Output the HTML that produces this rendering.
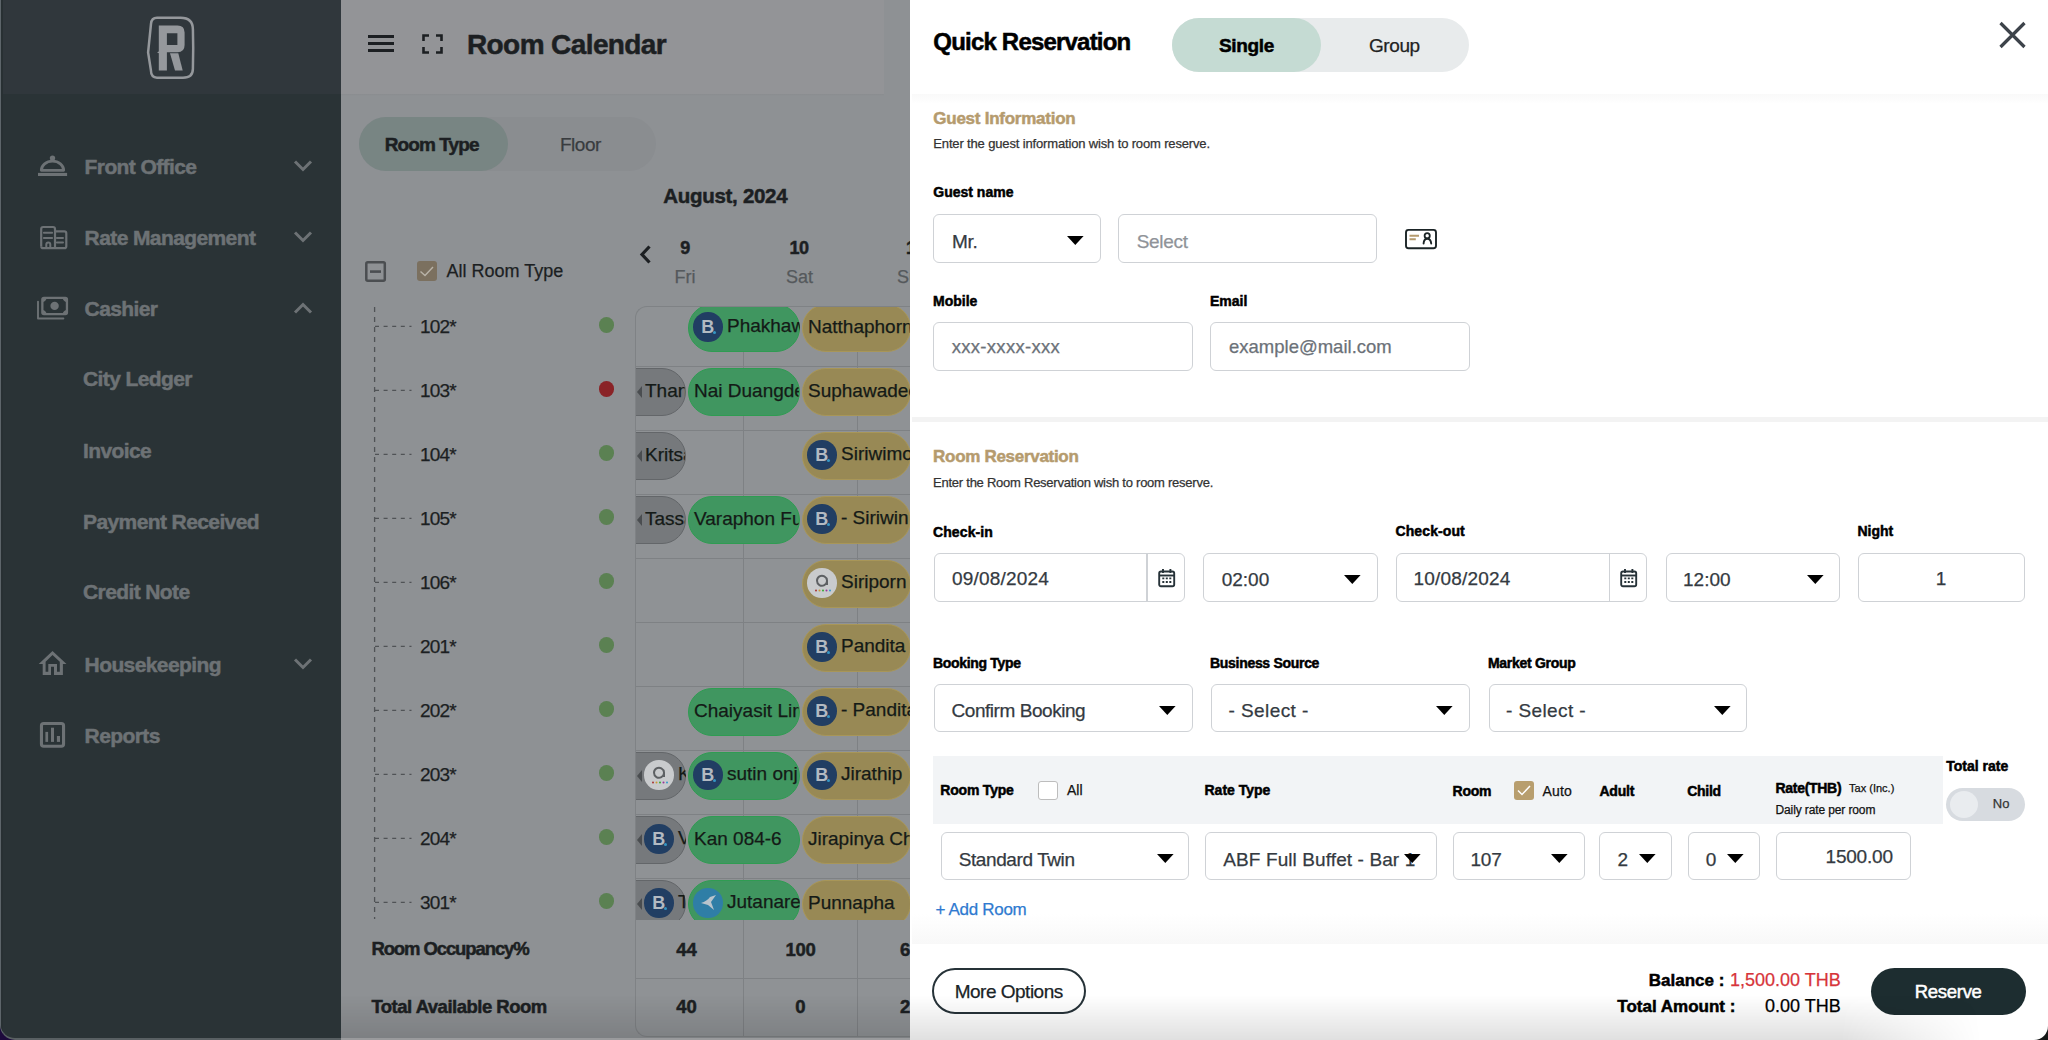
<!DOCTYPE html>
<html><head><meta charset="utf-8"><style>
html,body{margin:0;padding:0;}
body{width:2048px;height:1040px;position:relative;overflow:hidden;background:#1d0a3c;font-family:"Liberation Sans",sans-serif;}
.t{position:absolute;white-space:nowrap;}
.r{position:absolute;box-sizing:border-box;}
</style></head><body>
<div class="r" style="left:0;top:0;width:341px;height:1040px;background:#2a3336;border-left:1.6px solid #5d656a;border-bottom:2px solid #596063;border-bottom-left-radius:15px;overflow:hidden;"><div class="r" style="left:0;top:0;width:341px;height:94px;background:#30373c;"></div><div class="r" style="left:0;top:0;width:2.4px;height:1040px;background:#283033;"></div></div>
<svg class="r" style="left:140px;top:10px;" width="62" height="76" viewBox="0 0 62 76">
<path d="M17 7.7 H40.6 Q52.9 7.7 52.9 19.5 L53.2 38 L52.9 58.7 Q52.9 67.7 43 67.7 H17 Q11 67.7 10.8 59.5 L8.1 42.4 L11 13.8 Q11.5 7.7 17 7.7 Z" fill="none" stroke="#95989c" stroke-width="2.5"/>
<path d="M18.8 15.4 H37.5 Q44.6 15.4 44.6 22.5 V35 Q44.6 42.2 37.5 42.2 H26.9 V60.4 H18.8 V43.2 L17 42.2 L18.8 41.5 Z M26.9 23.2 V35 H37.4 V23.2 Z" fill="#95989c" fill-rule="evenodd"/>
<path d="M30 43.2 H38.3 L42.7 60.4 H35 Z" fill="#95989c"/>
</svg>
<svg class="r" style="left:36px;top:152px;" width="34" height="26" viewBox="0 0 34 26"><path d="M5.3 18.3 A11.2 9.2 0 0 1 27.7 18.3 Z" fill="none" stroke="#6d7275" stroke-width="2.8" stroke-linejoin="round"/>
<circle cx="16.5" cy="6.1" r="2.7" fill="#6d7275"/><rect x="2" y="20.9" width="29.1" height="3.1" fill="#6d7275"/></svg>
<div class="t" style="left:84.6px;top:156.00px;font-size:21px;line-height:21px;font-weight:700;color:#6d7275;letter-spacing:-0.6px;-webkit-text-stroke:0.5px #6d7275;">Front Office</div>
<svg class="r" style="left:292px;top:159px;" width="22" height="14" viewBox="0 0 22 14"><path d="M3 2.5 L11 10.5 L19 2.5" fill="none" stroke="#6d7275" stroke-width="3"/></svg>
<svg class="r" style="left:38px;top:224px;" width="32" height="28" viewBox="0 0 32 28"><path d="M3.2 22.2 V5 Q3.2 3 5.2 3 H15 Q17 3 17 5 V23" fill="none" stroke="#6d7275" stroke-width="2.2"/>
<path d="M17 7.4 H26.3 Q28.3 7.4 28.3 9.4 V22.2 Q28.3 24.2 26.3 24.2 H5.2 Q3.2 24.2 3.2 22.2" fill="none" stroke="#6d7275" stroke-width="2.2"/>
<path d="M5.9 8.8 H14.1 M5.9 14 H14.1 M18.9 14 H25 M18.9 18.4 H25" stroke="#6d7275" stroke-width="2" stroke-linecap="round"/>
<path d="M8.3 24 V20.5 Q8.3 18.5 10.3 18.5 Q12.3 18.5 12.3 20.5 V24" fill="none" stroke="#6d7275" stroke-width="2"/></svg>
<div class="t" style="left:84.6px;top:227.20px;font-size:21px;line-height:21px;font-weight:700;color:#6d7275;letter-spacing:-0.6px;-webkit-text-stroke:0.5px #6d7275;">Rate Management</div>
<svg class="r" style="left:292px;top:230px;" width="22" height="14" viewBox="0 0 22 14"><path d="M3 2.5 L11 10.5 L19 2.5" fill="none" stroke="#6d7275" stroke-width="3"/></svg>
<svg class="r" style="left:35px;top:294px;" width="36" height="28" viewBox="0 0 36 28"><rect x="7.35" y="3.85" width="24.6" height="16.3" rx="1.6" fill="none" stroke="#6d7275" stroke-width="2.3"/>
<path d="M7.3 3.9 h4.2 a4.2 4.2 0 0 1 -4.2 4.2 z M32 3.9 h-4.2 a4.2 4.2 0 0 0 4.2 4.2 z M7.3 20.1 h4.2 a4.2 4.2 0 0 0 -4.2 -4.2 z M32 20.1 h-4.2 a4.2 4.2 0 0 1 4.2 -4.2 z" fill="#6d7275"/>
<circle cx="19.6" cy="11.9" r="4.2" fill="#6d7275"/>
<path d="M3 7.6 V24.5 H28.4" fill="none" stroke="#6d7275" stroke-width="1.9" stroke-linecap="round" stroke-linejoin="round"/></svg>
<div class="t" style="left:84.6px;top:297.80px;font-size:21px;line-height:21px;font-weight:700;color:#6d7275;letter-spacing:-0.6px;-webkit-text-stroke:0.5px #6d7275;">Cashier</div>
<svg class="r" style="left:292px;top:301px;" width="22" height="14" viewBox="0 0 22 14"><path d="M3 11.5 L11 3.5 L19 11.5" fill="none" stroke="#6d7275" stroke-width="3"/></svg>
<div class="t" style="left:83px;top:368.00px;font-size:21px;line-height:21px;font-weight:700;color:#6d7275;letter-spacing:-0.6px;-webkit-text-stroke:0.5px #6d7275;">City Ledger</div>
<div class="t" style="left:83px;top:439.50px;font-size:21px;line-height:21px;font-weight:700;color:#6d7275;letter-spacing:-0.6px;-webkit-text-stroke:0.5px #6d7275;">Invoice</div>
<div class="t" style="left:83px;top:510.50px;font-size:21px;line-height:21px;font-weight:700;color:#6d7275;letter-spacing:-0.6px;-webkit-text-stroke:0.5px #6d7275;">Payment Received</div>
<div class="t" style="left:83px;top:581.00px;font-size:21px;line-height:21px;font-weight:700;color:#6d7275;letter-spacing:-0.6px;-webkit-text-stroke:0.5px #6d7275;">Credit Note</div>
<svg class="r" style="left:36px;top:648px;" width="34" height="30" viewBox="0 0 34 30"><path d="M16.5 2.9 L30.5 16 H26.9 V26.9 H18 V18.8 H15 V26.9 H6.7 V16 H2.7 Z M16.5 7.1 L23.8 13.8 V23.7 H21 V16 H12.3 V23.7 H9.6 V13.8 Z" fill="#6d7275" fill-rule="evenodd"/></svg>
<div class="t" style="left:84.6px;top:653.50px;font-size:21px;line-height:21px;font-weight:700;color:#6d7275;letter-spacing:-0.6px;-webkit-text-stroke:0.5px #6d7275;">Housekeeping</div>
<svg class="r" style="left:292px;top:657px;" width="22" height="14" viewBox="0 0 22 14"><path d="M3 2.5 L11 10.5 L19 2.5" fill="none" stroke="#6d7275" stroke-width="3"/></svg>
<svg class="r" style="left:38px;top:720px;" width="30" height="30" viewBox="0 0 30 30"><rect x="3.45" y="3.55" width="22.1" height="22.7" rx="2.2" fill="none" stroke="#6d7275" stroke-width="3.1"/>
<rect x="7.4" y="11.9" width="2.7" height="10" fill="#6d7275"/><rect x="13" y="7.7" width="3" height="14.2" fill="#6d7275"/><rect x="18.9" y="16" width="3.1" height="5.9" fill="#6d7275"/></svg>
<div class="t" style="left:84.6px;top:724.50px;font-size:21px;line-height:21px;font-weight:700;color:#6d7275;letter-spacing:-0.6px;-webkit-text-stroke:0.5px #6d7275;">Reports</div>
<div class="r" style="left:341px;top:0px;width:569px;height:1040px;background:#8e9194;"></div>
<div class="r" style="left:341px;top:0px;width:543px;height:94px;background:#939497;"></div>
<div class="r" style="left:341px;top:94px;width:543px;height:2px;background:linear-gradient(#8a8c8f,#8e9194);"></div>
<div class="r" style="left:368px;top:34.5px;width:26px;height:3px;background:#1c1f22;"></div>
<div class="r" style="left:368px;top:41.5px;width:26px;height:3px;background:#1c1f22;"></div>
<div class="r" style="left:368px;top:48.5px;width:26px;height:3px;background:#1c1f22;"></div>
<svg class="r" style="left:421px;top:33px;" width="23" height="22" viewBox="0 0 23 22"><path d="M2.5 8 V2.5 H8 M15 2.5 H20.5 V8 M20.5 14 V19.5 H15 M8 19.5 H2.5 V14" fill="none" stroke="#1c1f22" stroke-width="2.6"/></svg>
<div class="t" style="left:467px;top:30.50px;font-size:28px;line-height:28px;font-weight:700;color:#1c1f22;letter-spacing:-0.6px;-webkit-text-stroke:0.5px #1c1f22;">Room Calendar</div>
<div class="r" style="left:358.7px;top:116.7px;width:297px;height:54px;background:#8a8d90;border-radius:27px;"></div>
<div class="r" style="left:358.7px;top:116.7px;width:149px;height:54px;background:#788583;border-radius:27px;"></div>
<div class="t" style="left:384.7px;top:134.90px;font-size:19px;line-height:19px;font-weight:700;color:#1c1f22;letter-spacing:-0.9px;-webkit-text-stroke:0.5px #1c1f22;">Room Type</div>
<div class="t" style="left:560px;top:134.90px;font-size:19px;line-height:19px;font-weight:400;color:#393c3f;letter-spacing:-0.5px;-webkit-text-stroke:0.25px #393c3f;">Floor</div>
<div class="t" style="left:663.3px;top:186.15px;font-size:20.5px;line-height:20.5px;font-weight:700;color:#1c1f22;letter-spacing:-0.3px;-webkit-text-stroke:0.5px #1c1f22;">August, 2024</div>
<svg class="r" style="left:364px;top:260px;" width="23" height="23" viewBox="0 0 23 23"><rect x="2.3" y="2.3" width="18.5" height="18.5" rx="1.5" fill="none" stroke="#4b4e51" stroke-width="2.5"/><rect x="6" y="10.3" width="11" height="2.6" fill="#4b4e51"/></svg>
<div class="r" style="left:417px;top:261.2px;width:19.6px;height:19.7px;background:#7b705f;border-radius:3px;"></div>
<svg class="r" style="left:417px;top:261px;" width="20" height="20" viewBox="0 0 20 20"><path d="M3.5 10.5 L8 14.5 L16 6" fill="none" stroke="#b9b3a8" stroke-width="1.4"/></svg>
<div class="t" style="left:446.6px;top:262.20px;font-size:18px;line-height:18px;font-weight:400;color:#1c1f22;-webkit-text-stroke:0.25px #1c1f22;">All Room Type</div>
<svg class="r" style="left:636px;top:243px;" width="20" height="24" viewBox="0 0 20 24"><path d="M13.5 3.5 L6 11.5 L13.5 19.5" fill="none" stroke="#1c1f22" stroke-width="3.2"/></svg>
<div class="t" style="left:655.3px;width:60px;text-align:center;top:239.30px;font-size:18px;line-height:18px;font-weight:700;color:#1c1f22;-webkit-text-stroke:0.5px #1c1f22;">9</div>
<div class="t" style="left:768.9px;width:60px;text-align:center;top:239.30px;font-size:18px;line-height:18px;font-weight:700;color:#1c1f22;letter-spacing:-0.5px;-webkit-text-stroke:0.5px #1c1f22;">10</div>
<div class="t" style="left:906px;top:239.30px;font-size:18px;line-height:18px;font-weight:700;color:#1c1f22;letter-spacing:-0.5px;-webkit-text-stroke:0.5px #1c1f22;">11</div>
<div class="t" style="left:655.0px;width:60px;text-align:center;top:267.90px;font-size:18px;line-height:18px;font-weight:400;color:#55595c;-webkit-text-stroke:0.25px #55595c;">Fri</div>
<div class="t" style="left:769.5px;width:60px;text-align:center;top:267.90px;font-size:18px;line-height:18px;font-weight:400;color:#55595c;-webkit-text-stroke:0.25px #55595c;">Sat</div>
<div class="t" style="left:897px;top:267.90px;font-size:18px;line-height:18px;font-weight:400;color:#55595c;-webkit-text-stroke:0.25px #55595c;">Sun</div>
<div class="r" style="left:635px;top:306px;width:330px;height:731px;border:1px solid #7f8285;border-right:none;border-radius:12px 0 0 12px;overflow:hidden;background:#8f9295;">
<div class="r" style="left:-1px;top:59px;width:330px;height:1px;background:#7e8184;"></div>
<div class="r" style="left:-1px;top:123px;width:330px;height:1px;background:#7e8184;"></div>
<div class="r" style="left:-1px;top:187px;width:330px;height:1px;background:#7e8184;"></div>
<div class="r" style="left:-1px;top:251px;width:330px;height:1px;background:#7e8184;"></div>
<div class="r" style="left:-1px;top:315px;width:330px;height:1px;background:#7e8184;"></div>
<div class="r" style="left:-1px;top:379px;width:330px;height:1px;background:#7e8184;"></div>
<div class="r" style="left:-1px;top:443px;width:330px;height:1px;background:#7e8184;"></div>
<div class="r" style="left:-1px;top:507px;width:330px;height:1px;background:#7e8184;"></div>
<div class="r" style="left:-1px;top:571px;width:330px;height:1px;background:#7e8184;"></div>
<div class="r" style="left:-1px;top:671px;width:330px;height:1px;background:#7e8184;"></div>
<div class="r" style="left:107px;top:-1px;width:1px;height:740px;background:#7e8184;"></div>
<div class="r" style="left:221px;top:-1px;width:1px;height:740px;background:#7e8184;"></div>
<div class="r" style="left:0;top:0;width:330px;height:613px;overflow:hidden;">
<div class="r" style="left:52px;top:-2.6000000000000227px;width:112px;height:48px;border-radius:24px;background:#409660;border:1.5px solid #2f9c52;overflow:hidden;">
<div class="r" style="left:3.5px;top:7px;width:29.5px;height:29.5px;"></div>
</div>
<div class="r" style="left:57.0px;top:5.449999999999989px;width:29.5px;height:29.5px;border-radius:50%;background:#213e63;"></div>
<div class="t" style="left:65.3px;top:10.449999999999989px;font-size:18px;line-height:20px;font-weight:700;color:#b3bac2;">B</div>
<div class="r" style="left:76.5px;top:23.94999999999999px;width:3px;height:3px;border-radius:50%;background:#3596c4;"></div>
<div class="r" style="left:52px;top:-2.6000000000000227px;width:112px;height:48px;border-radius:24px;overflow:hidden;">
<div class="t" style="left:39px;top:10.6px;font-size:19px;line-height:22px;color:#141a17;-webkit-text-stroke:0.25px #141a17;">Phakhawalan</div>
</div>
<div class="r" style="left:166px;top:-2.6000000000000227px;width:109px;height:48px;border-radius:24px;background:#988955;border:1.5px solid #a89658;overflow:hidden;">
<div class="t" style="left:5px;top:10.6px;font-size:19px;line-height:22px;color:#141a17;-webkit-text-stroke:0.25px #141a17;">Natthaphorn</div>
</div>
<div class="r" style="left:-36px;top:61.39999999999998px;width:86px;height:48px;border-radius:24px;background:#76797c;border:1.5px solid #636669;overflow:hidden;">
<svg class="r" style="left:36px;top:17px;" width="6" height="12"><path d="M5 0 L0 6 L5 12 Z" fill="#4a4d50"/></svg>
<div class="t" style="left:44px;top:10.6px;font-size:19px;line-height:22px;color:#141a17;-webkit-text-stroke:0.25px #141a17;">Thanakorn</div>
</div>
<div class="r" style="left:52px;top:61.39999999999998px;width:112px;height:48px;border-radius:24px;background:#409660;border:1.5px solid #2f9c52;overflow:hidden;">
<div class="t" style="left:5px;top:10.6px;font-size:19px;line-height:22px;color:#141a17;-webkit-text-stroke:0.25px #141a17;">Nai Duangdee</div>
</div>
<div class="r" style="left:166px;top:61.39999999999998px;width:109px;height:48px;border-radius:24px;background:#988955;border:1.5px solid #a89658;overflow:hidden;">
<div class="t" style="left:5px;top:10.6px;font-size:19px;line-height:22px;color:#141a17;-webkit-text-stroke:0.25px #141a17;">Suphawadee</div>
</div>
<div class="r" style="left:-36px;top:125.39999999999998px;width:86px;height:48px;border-radius:24px;background:#76797c;border:1.5px solid #636669;overflow:hidden;">
<svg class="r" style="left:36px;top:17px;" width="6" height="12"><path d="M5 0 L0 6 L5 12 Z" fill="#4a4d50"/></svg>
<div class="t" style="left:44px;top:10.6px;font-size:19px;line-height:22px;color:#141a17;-webkit-text-stroke:0.25px #141a17;">Kritsada</div>
</div>
<div class="r" style="left:166px;top:125.39999999999998px;width:109px;height:48px;border-radius:24px;background:#988955;border:1.5px solid #a89658;overflow:hidden;">
<div class="r" style="left:3.5px;top:7px;width:29.5px;height:29.5px;"></div>
</div>
<div class="r" style="left:171.0px;top:133.45px;width:29.5px;height:29.5px;border-radius:50%;background:#213e63;"></div>
<div class="t" style="left:179.3px;top:138.45px;font-size:18px;line-height:20px;font-weight:700;color:#b3bac2;">B</div>
<div class="r" style="left:190.5px;top:151.95px;width:3px;height:3px;border-radius:50%;background:#3596c4;"></div>
<div class="r" style="left:166px;top:125.39999999999998px;width:109px;height:48px;border-radius:24px;overflow:hidden;">
<div class="t" style="left:39px;top:10.6px;font-size:19px;line-height:22px;color:#141a17;-webkit-text-stroke:0.25px #141a17;">Siriwimol</div>
</div>
<div class="r" style="left:-36px;top:189.39999999999998px;width:86px;height:48px;border-radius:24px;background:#76797c;border:1.5px solid #636669;overflow:hidden;">
<svg class="r" style="left:36px;top:17px;" width="6" height="12"><path d="M5 0 L0 6 L5 12 Z" fill="#4a4d50"/></svg>
<div class="t" style="left:44px;top:10.6px;font-size:19px;line-height:22px;color:#141a17;-webkit-text-stroke:0.25px #141a17;">Tassanee</div>
</div>
<div class="r" style="left:52px;top:189.39999999999998px;width:112px;height:48px;border-radius:24px;background:#409660;border:1.5px solid #2f9c52;overflow:hidden;">
<div class="t" style="left:5px;top:10.6px;font-size:19px;line-height:22px;color:#141a17;-webkit-text-stroke:0.25px #141a17;">Varaphon Fu</div>
</div>
<div class="r" style="left:166px;top:189.39999999999998px;width:109px;height:48px;border-radius:24px;background:#988955;border:1.5px solid #a89658;overflow:hidden;">
<div class="r" style="left:3.5px;top:7px;width:29.5px;height:29.5px;"></div>
</div>
<div class="r" style="left:171.0px;top:197.44999999999993px;width:29.5px;height:29.5px;border-radius:50%;background:#213e63;"></div>
<div class="t" style="left:179.3px;top:202.44999999999993px;font-size:18px;line-height:20px;font-weight:700;color:#b3bac2;">B</div>
<div class="r" style="left:190.5px;top:215.94999999999993px;width:3px;height:3px;border-radius:50%;background:#3596c4;"></div>
<div class="r" style="left:166px;top:189.39999999999998px;width:109px;height:48px;border-radius:24px;overflow:hidden;">
<div class="t" style="left:39px;top:10.6px;font-size:19px;line-height:22px;color:#141a17;-webkit-text-stroke:0.25px #141a17;">- Siriwin</div>
</div>
<div class="r" style="left:166px;top:253.39999999999998px;width:109px;height:48px;border-radius:24px;background:#988955;border:1.5px solid #a89658;overflow:hidden;">
<div class="r" style="left:3.5px;top:7px;width:29.5px;height:29.5px;"></div>
</div>
<div class="r" style="left:171.0px;top:261.44999999999993px;width:29.5px;height:29.5px;border-radius:50%;background:#c9cbcd;"></div>
<svg class="r" style="left:171.0px;top:261.44999999999993px;" width="30" height="30"><path d="M20 17 V12.5 A5 5 0 1 0 20 13 " fill="none" stroke="#5d6063" stroke-width="2"/><circle cx="9" cy="22.5" r="1" fill="#a33"/><circle cx="12.5" cy="22.5" r="1" fill="#c93"/><circle cx="16" cy="22.5" r="1" fill="#3a3"/><circle cx="19.5" cy="22.5" r="1" fill="#939"/><circle cx="23" cy="22.5" r="1" fill="#39c"/></svg>
<div class="r" style="left:166px;top:253.39999999999998px;width:109px;height:48px;border-radius:24px;overflow:hidden;">
<div class="t" style="left:39px;top:10.6px;font-size:19px;line-height:22px;color:#141a17;-webkit-text-stroke:0.25px #141a17;">Siriporn</div>
</div>
<div class="r" style="left:166px;top:317.4px;width:109px;height:48px;border-radius:24px;background:#988955;border:1.5px solid #a89658;overflow:hidden;">
<div class="r" style="left:3.5px;top:7px;width:29.5px;height:29.5px;"></div>
</div>
<div class="r" style="left:171.0px;top:325.44999999999993px;width:29.5px;height:29.5px;border-radius:50%;background:#213e63;"></div>
<div class="t" style="left:179.3px;top:330.44999999999993px;font-size:18px;line-height:20px;font-weight:700;color:#b3bac2;">B</div>
<div class="r" style="left:190.5px;top:343.94999999999993px;width:3px;height:3px;border-radius:50%;background:#3596c4;"></div>
<div class="r" style="left:166px;top:317.4px;width:109px;height:48px;border-radius:24px;overflow:hidden;">
<div class="t" style="left:39px;top:10.6px;font-size:19px;line-height:22px;color:#141a17;-webkit-text-stroke:0.25px #141a17;">Pandita</div>
</div>
<div class="r" style="left:52px;top:381.4px;width:112px;height:48px;border-radius:24px;background:#409660;border:1.5px solid #2f9c52;overflow:hidden;">
<div class="t" style="left:5px;top:10.6px;font-size:19px;line-height:22px;color:#141a17;-webkit-text-stroke:0.25px #141a17;">Chaiyasit Lim</div>
</div>
<div class="r" style="left:166px;top:381.4px;width:109px;height:48px;border-radius:24px;background:#988955;border:1.5px solid #a89658;overflow:hidden;">
<div class="r" style="left:3.5px;top:7px;width:29.5px;height:29.5px;"></div>
</div>
<div class="r" style="left:171.0px;top:389.44999999999993px;width:29.5px;height:29.5px;border-radius:50%;background:#213e63;"></div>
<div class="t" style="left:179.3px;top:394.44999999999993px;font-size:18px;line-height:20px;font-weight:700;color:#b3bac2;">B</div>
<div class="r" style="left:190.5px;top:407.94999999999993px;width:3px;height:3px;border-radius:50%;background:#3596c4;"></div>
<div class="r" style="left:166px;top:381.4px;width:109px;height:48px;border-radius:24px;overflow:hidden;">
<div class="t" style="left:39px;top:10.6px;font-size:19px;line-height:22px;color:#141a17;-webkit-text-stroke:0.25px #141a17;">- Pandita</div>
</div>
<div class="r" style="left:-36px;top:445.4px;width:86px;height:48px;border-radius:24px;background:#76797c;border:1.5px solid #636669;overflow:hidden;">
<svg class="r" style="left:36px;top:17px;" width="6" height="12"><path d="M5 0 L0 6 L5 12 Z" fill="#4a4d50"/></svg>
<div class="r" style="left:42.5px;top:7px;width:29.5px;height:29.5px;"></div>
</div>
<div class="r" style="left:8.0px;top:453.44999999999993px;width:29.5px;height:29.5px;border-radius:50%;background:#c9cbcd;"></div>
<svg class="r" style="left:8.0px;top:453.44999999999993px;" width="30" height="30"><path d="M20 17 V12.5 A5 5 0 1 0 20 13 " fill="none" stroke="#5d6063" stroke-width="2"/><circle cx="9" cy="22.5" r="1" fill="#a33"/><circle cx="12.5" cy="22.5" r="1" fill="#c93"/><circle cx="16" cy="22.5" r="1" fill="#3a3"/><circle cx="19.5" cy="22.5" r="1" fill="#939"/><circle cx="23" cy="22.5" r="1" fill="#39c"/></svg>
<div class="r" style="left:-36px;top:445.4px;width:86px;height:48px;border-radius:24px;overflow:hidden;">
<div class="t" style="left:78px;top:10.6px;font-size:19px;line-height:22px;color:#141a17;-webkit-text-stroke:0.25px #141a17;">K</div>
</div>
<div class="r" style="left:52px;top:445.4px;width:112px;height:48px;border-radius:24px;background:#409660;border:1.5px solid #2f9c52;overflow:hidden;">
<div class="r" style="left:3.5px;top:7px;width:29.5px;height:29.5px;"></div>
</div>
<div class="r" style="left:57.0px;top:453.44999999999993px;width:29.5px;height:29.5px;border-radius:50%;background:#213e63;"></div>
<div class="t" style="left:65.3px;top:458.44999999999993px;font-size:18px;line-height:20px;font-weight:700;color:#b3bac2;">B</div>
<div class="r" style="left:76.5px;top:471.94999999999993px;width:3px;height:3px;border-radius:50%;background:#3596c4;"></div>
<div class="r" style="left:52px;top:445.4px;width:112px;height:48px;border-radius:24px;overflow:hidden;">
<div class="t" style="left:39px;top:10.6px;font-size:19px;line-height:22px;color:#141a17;-webkit-text-stroke:0.25px #141a17;">sutin onj</div>
</div>
<div class="r" style="left:166px;top:445.4px;width:109px;height:48px;border-radius:24px;background:#988955;border:1.5px solid #a89658;overflow:hidden;">
<div class="r" style="left:3.5px;top:7px;width:29.5px;height:29.5px;"></div>
</div>
<div class="r" style="left:171.0px;top:453.44999999999993px;width:29.5px;height:29.5px;border-radius:50%;background:#213e63;"></div>
<div class="t" style="left:179.3px;top:458.44999999999993px;font-size:18px;line-height:20px;font-weight:700;color:#b3bac2;">B</div>
<div class="r" style="left:190.5px;top:471.94999999999993px;width:3px;height:3px;border-radius:50%;background:#3596c4;"></div>
<div class="r" style="left:166px;top:445.4px;width:109px;height:48px;border-radius:24px;overflow:hidden;">
<div class="t" style="left:39px;top:10.6px;font-size:19px;line-height:22px;color:#141a17;-webkit-text-stroke:0.25px #141a17;">Jirathip</div>
</div>
<div class="r" style="left:-36px;top:509.4px;width:86px;height:48px;border-radius:24px;background:#76797c;border:1.5px solid #636669;overflow:hidden;">
<svg class="r" style="left:36px;top:17px;" width="6" height="12"><path d="M5 0 L0 6 L5 12 Z" fill="#4a4d50"/></svg>
<div class="r" style="left:42.5px;top:7px;width:29.5px;height:29.5px;"></div>
</div>
<div class="r" style="left:8.0px;top:517.4499999999999px;width:29.5px;height:29.5px;border-radius:50%;background:#213e63;"></div>
<div class="t" style="left:16.3px;top:522.4499999999999px;font-size:18px;line-height:20px;font-weight:700;color:#b3bac2;">B</div>
<div class="r" style="left:27.5px;top:535.9499999999999px;width:3px;height:3px;border-radius:50%;background:#3596c4;"></div>
<div class="r" style="left:-36px;top:509.4px;width:86px;height:48px;border-radius:24px;overflow:hidden;">
<div class="t" style="left:78px;top:10.6px;font-size:19px;line-height:22px;color:#141a17;-webkit-text-stroke:0.25px #141a17;">V</div>
</div>
<div class="r" style="left:52px;top:509.4px;width:112px;height:48px;border-radius:24px;background:#409660;border:1.5px solid #2f9c52;overflow:hidden;">
<div class="t" style="left:5px;top:10.6px;font-size:19px;line-height:22px;color:#141a17;-webkit-text-stroke:0.25px #141a17;">Kan 084-6</div>
</div>
<div class="r" style="left:166px;top:509.4px;width:109px;height:48px;border-radius:24px;background:#988955;border:1.5px solid #a89658;overflow:hidden;">
<div class="t" style="left:5px;top:10.6px;font-size:19px;line-height:22px;color:#141a17;-webkit-text-stroke:0.25px #141a17;">Jirapinya Ch</div>
</div>
<div class="r" style="left:-36px;top:573.4px;width:86px;height:48px;border-radius:24px;background:#76797c;border:1.5px solid #636669;overflow:hidden;">
<svg class="r" style="left:36px;top:17px;" width="6" height="12"><path d="M5 0 L0 6 L5 12 Z" fill="#4a4d50"/></svg>
<div class="r" style="left:42.5px;top:7px;width:29.5px;height:29.5px;"></div>
</div>
<div class="r" style="left:8.0px;top:581.4499999999999px;width:29.5px;height:29.5px;border-radius:50%;background:#213e63;"></div>
<div class="t" style="left:16.3px;top:586.4499999999999px;font-size:18px;line-height:20px;font-weight:700;color:#b3bac2;">B</div>
<div class="r" style="left:27.5px;top:599.9499999999999px;width:3px;height:3px;border-radius:50%;background:#3596c4;"></div>
<div class="r" style="left:-36px;top:573.4px;width:86px;height:48px;border-radius:24px;overflow:hidden;">
<div class="t" style="left:78px;top:10.6px;font-size:19px;line-height:22px;color:#141a17;-webkit-text-stroke:0.25px #141a17;">T</div>
</div>
<div class="r" style="left:52px;top:573.4px;width:112px;height:48px;border-radius:24px;background:#409660;border:1.5px solid #2f9c52;overflow:hidden;">
<div class="r" style="left:3.5px;top:7px;width:29.5px;height:29.5px;"></div>
</div>
<div class="r" style="left:57.0px;top:581.4499999999999px;width:29.5px;height:29.5px;border-radius:50%;background:#2f7ea6;"></div>
<svg class="r" style="left:57.0px;top:581.4499999999999px;" width="30" height="30"><path d="M8 15 Q14 13 17 9 L23 7 L18 14 L21 22 L15 17 Z" fill="#b8c4cc"/></svg>
<div class="r" style="left:52px;top:573.4px;width:112px;height:48px;border-radius:24px;overflow:hidden;">
<div class="t" style="left:39px;top:10.6px;font-size:19px;line-height:22px;color:#141a17;-webkit-text-stroke:0.25px #141a17;">Jutanare</div>
</div>
<div class="r" style="left:166px;top:573.4px;width:109px;height:48px;border-radius:24px;background:#988955;border:1.5px solid #a89658;overflow:hidden;">
<div class="t" style="left:5px;top:10.6px;font-size:19px;line-height:22px;color:#141a17;-webkit-text-stroke:0.25px #141a17;">Punnapha</div>
</div>
</div>
</div>
<div class="t" style="left:420px;top:317.00px;font-size:19px;line-height:19px;font-weight:400;color:#1c1f22;letter-spacing:-0.8px;-webkit-text-stroke:0.25px #1c1f22;">102*</div>
<svg class="r" style="left:374px;top:320px;" width="40" height="12" viewBox="0 0 40 12"><path d="M1 6.4 H37.5" stroke="#505356" stroke-width="1.3" stroke-dasharray="4 4.6"/></svg>
<div class="r" style="left:598.6px;top:317.2px;width:15.8px;height:15.8px;background:#5b8152;border-radius:50%;"></div>
<div class="t" style="left:420px;top:381.00px;font-size:19px;line-height:19px;font-weight:400;color:#1c1f22;letter-spacing:-0.8px;-webkit-text-stroke:0.25px #1c1f22;">103*</div>
<svg class="r" style="left:374px;top:384px;" width="40" height="12" viewBox="0 0 40 12"><path d="M1 6.4 H37.5" stroke="#505356" stroke-width="1.3" stroke-dasharray="4 4.6"/></svg>
<div class="r" style="left:598.6px;top:381.2px;width:15.8px;height:15.8px;background:#8a2327;border-radius:50%;"></div>
<div class="t" style="left:420px;top:445.00px;font-size:19px;line-height:19px;font-weight:400;color:#1c1f22;letter-spacing:-0.8px;-webkit-text-stroke:0.25px #1c1f22;">104*</div>
<svg class="r" style="left:374px;top:448px;" width="40" height="12" viewBox="0 0 40 12"><path d="M1 6.4 H37.5" stroke="#505356" stroke-width="1.3" stroke-dasharray="4 4.6"/></svg>
<div class="r" style="left:598.6px;top:445.2px;width:15.8px;height:15.8px;background:#5b8152;border-radius:50%;"></div>
<div class="t" style="left:420px;top:509.00px;font-size:19px;line-height:19px;font-weight:400;color:#1c1f22;letter-spacing:-0.8px;-webkit-text-stroke:0.25px #1c1f22;">105*</div>
<svg class="r" style="left:374px;top:512px;" width="40" height="12" viewBox="0 0 40 12"><path d="M1 6.4 H37.5" stroke="#505356" stroke-width="1.3" stroke-dasharray="4 4.6"/></svg>
<div class="r" style="left:598.6px;top:509.2px;width:15.8px;height:15.8px;background:#5b8152;border-radius:50%;"></div>
<div class="t" style="left:420px;top:573.00px;font-size:19px;line-height:19px;font-weight:400;color:#1c1f22;letter-spacing:-0.8px;-webkit-text-stroke:0.25px #1c1f22;">106*</div>
<svg class="r" style="left:374px;top:576px;" width="40" height="12" viewBox="0 0 40 12"><path d="M1 6.4 H37.5" stroke="#505356" stroke-width="1.3" stroke-dasharray="4 4.6"/></svg>
<div class="r" style="left:598.6px;top:573.2px;width:15.8px;height:15.8px;background:#5b8152;border-radius:50%;"></div>
<div class="t" style="left:420px;top:637.00px;font-size:19px;line-height:19px;font-weight:400;color:#1c1f22;letter-spacing:-0.8px;-webkit-text-stroke:0.25px #1c1f22;">201*</div>
<svg class="r" style="left:374px;top:640px;" width="40" height="12" viewBox="0 0 40 12"><path d="M1 6.4 H37.5" stroke="#505356" stroke-width="1.3" stroke-dasharray="4 4.6"/></svg>
<div class="r" style="left:598.6px;top:637.2px;width:15.8px;height:15.8px;background:#5b8152;border-radius:50%;"></div>
<div class="t" style="left:420px;top:701.00px;font-size:19px;line-height:19px;font-weight:400;color:#1c1f22;letter-spacing:-0.8px;-webkit-text-stroke:0.25px #1c1f22;">202*</div>
<svg class="r" style="left:374px;top:704px;" width="40" height="12" viewBox="0 0 40 12"><path d="M1 6.4 H37.5" stroke="#505356" stroke-width="1.3" stroke-dasharray="4 4.6"/></svg>
<div class="r" style="left:598.6px;top:701.2px;width:15.8px;height:15.8px;background:#5b8152;border-radius:50%;"></div>
<div class="t" style="left:420px;top:765.00px;font-size:19px;line-height:19px;font-weight:400;color:#1c1f22;letter-spacing:-0.8px;-webkit-text-stroke:0.25px #1c1f22;">203*</div>
<svg class="r" style="left:374px;top:768px;" width="40" height="12" viewBox="0 0 40 12"><path d="M1 6.4 H37.5" stroke="#505356" stroke-width="1.3" stroke-dasharray="4 4.6"/></svg>
<div class="r" style="left:598.6px;top:765.2px;width:15.8px;height:15.8px;background:#5b8152;border-radius:50%;"></div>
<div class="t" style="left:420px;top:829.00px;font-size:19px;line-height:19px;font-weight:400;color:#1c1f22;letter-spacing:-0.8px;-webkit-text-stroke:0.25px #1c1f22;">204*</div>
<svg class="r" style="left:374px;top:832px;" width="40" height="12" viewBox="0 0 40 12"><path d="M1 6.4 H37.5" stroke="#505356" stroke-width="1.3" stroke-dasharray="4 4.6"/></svg>
<div class="r" style="left:598.6px;top:829.2px;width:15.8px;height:15.8px;background:#5b8152;border-radius:50%;"></div>
<div class="t" style="left:420px;top:893.00px;font-size:19px;line-height:19px;font-weight:400;color:#1c1f22;letter-spacing:-0.8px;-webkit-text-stroke:0.25px #1c1f22;">301*</div>
<svg class="r" style="left:374px;top:896px;" width="40" height="12" viewBox="0 0 40 12"><path d="M1 6.4 H37.5" stroke="#505356" stroke-width="1.3" stroke-dasharray="4 4.6"/></svg>
<div class="r" style="left:598.6px;top:893.2px;width:15.8px;height:15.8px;background:#5b8152;border-radius:50%;"></div>
<svg class="r" style="left:370px;top:306px;" width="10" height="614" viewBox="0 0 10 614"><path d="M4.6 1 V613" stroke="#505356" stroke-width="1.3" stroke-dasharray="5 5"/></svg>
<div class="t" style="left:371.4px;top:939.95px;font-size:18.5px;line-height:18.5px;font-weight:700;color:#1c1f22;letter-spacing:-1.1px;-webkit-text-stroke:0.5px #1c1f22;">Room Occupancy%</div>
<div class="t" style="left:371.4px;top:998.25px;font-size:18.5px;line-height:18.5px;font-weight:700;color:#1c1f22;letter-spacing:-0.5px;-webkit-text-stroke:0.5px #1c1f22;">Total Available Room</div>
<div class="t" style="left:656.5px;width:60px;text-align:center;top:940.65px;font-size:18.5px;line-height:18.5px;font-weight:700;color:#1c1f22;-webkit-text-stroke:0.5px #1c1f22;">44</div>
<div class="t" style="left:770.5px;width:60px;text-align:center;top:940.65px;font-size:18.5px;line-height:18.5px;font-weight:700;color:#1c1f22;letter-spacing:-0.3px;-webkit-text-stroke:0.5px #1c1f22;">100</div>
<div class="t" style="left:900px;top:940.65px;font-size:18.5px;line-height:18.5px;font-weight:700;color:#1c1f22;-webkit-text-stroke:0.5px #1c1f22;">60</div>
<div class="t" style="left:656.5px;width:60px;text-align:center;top:998.25px;font-size:18.5px;line-height:18.5px;font-weight:700;color:#1c1f22;-webkit-text-stroke:0.5px #1c1f22;">40</div>
<div class="t" style="left:770.5px;width:60px;text-align:center;top:998.25px;font-size:18.5px;line-height:18.5px;font-weight:700;color:#1c1f22;-webkit-text-stroke:0.5px #1c1f22;">0</div>
<div class="t" style="left:900px;top:998.25px;font-size:18.5px;line-height:18.5px;font-weight:700;color:#1c1f22;-webkit-text-stroke:0.5px #1c1f22;">20</div>
<div class="r" style="left:2020px;top:1010px;width:28px;height:30px;background:#161818;"></div>
<div class="r" style="left:910px;top:0;width:1138px;height:1040px;background:#fff;border-bottom-right-radius:14px;"></div>
<div class="r" style="left:912px;top:94px;width:1136px;height:10px;background:linear-gradient(#f9f9f9,#fff);"></div>
<div class="t" style="left:933.3px;top:30.10px;font-size:24px;line-height:24px;font-weight:700;color:#000;letter-spacing:-0.8px;-webkit-text-stroke:0.5px #000;">Quick Reservation</div>
<div class="r" style="left:1172px;top:17.8px;width:297px;height:54px;background:#e8ebec;border-radius:27px;"></div>
<div class="r" style="left:1172px;top:17.8px;width:149px;height:54px;background:#c5dbd3;border-radius:27px;"></div>
<div class="t" style="left:1186.5px;width:120px;text-align:center;top:35.90px;font-size:19px;line-height:19px;font-weight:700;color:#000;letter-spacing:-0.3px;-webkit-text-stroke:0.5px #000;">Single</div>
<div class="t" style="left:1334.4px;width:120px;text-align:center;top:35.90px;font-size:19px;line-height:19px;font-weight:400;color:#222;letter-spacing:-0.4px;-webkit-text-stroke:0.25px #222;">Group</div>
<svg class="r" style="left:1996px;top:19px;" width="32" height="32" viewBox="0 0 32 32"><path d="M4.5 4 L28.5 28 M28.5 4 L4.5 28" stroke="#3d434a" stroke-width="3.2"/></svg>
<div class="t" style="left:933.3px;top:109.80px;font-size:17px;line-height:17px;font-weight:700;color:#b59b6e;letter-spacing:-0.25px;-webkit-text-stroke:0.5px #b59b6e;">Guest Information</div>
<div class="t" style="left:933.3px;top:137.10px;font-size:13px;line-height:13px;font-weight:400;color:#333;letter-spacing:-0.15px;-webkit-text-stroke:0.25px #333;">Enter the guest information wish to room reserve.</div>
<div class="t" style="left:933.3px;top:184.60px;font-size:14px;line-height:14px;font-weight:700;color:#000;-webkit-text-stroke:0.5px #000;">Guest name</div>
<div class="r" style="left:933.3px;top:214px;width:167.5px;height:48.69999999999999px;border:1.6px solid #cfd2d6;border-radius:6px;background:#fff;"></div>
<div class="t" style="left:952px;top:231.60px;font-size:19px;line-height:19px;font-weight:400;color:#343a41;letter-spacing:-0.3px;-webkit-text-stroke:0.25px #343a41;">Mr.</div>
<svg class="r" style="left:1066.8px;top:235.9px;" width="17" height="9" viewBox="0 0 17 9"><path d="M0 0 H16.6 L8.3 9 Z" fill="#000"/></svg>
<div class="r" style="left:1118.3px;top:214px;width:259.10000000000014px;height:48.69999999999999px;border:1.6px solid #cfd2d6;border-radius:6px;background:#fff;"></div>
<div class="t" style="left:1136.7px;top:232.00px;font-size:19px;line-height:19px;font-weight:400;color:#8f9398;letter-spacing:-0.3px;-webkit-text-stroke:0.25px #8f9398;">Select</div>
<svg class="r" style="left:1403px;top:227px;" width="36" height="24" viewBox="0 0 36 24"><rect x="3" y="2.9" width="30" height="18.3" rx="2.5" fill="none" stroke="#1b2426" stroke-width="1.9"/>
<path d="M6.5 8.8 H16 M6.5 12.2 H12.8" stroke="#b59b6e" stroke-width="1.9"/>
<circle cx="24.2" cy="8.7" r="2.6" fill="none" stroke="#1b2426" stroke-width="1.8"/>
<path d="M20.6 16.5 Q20.8 11.8 24.3 11.8 Q27.8 11.8 28.2 16.5" fill="none" stroke="#1b2426" stroke-width="1.9" stroke-linecap="round"/></svg>
<div class="t" style="left:933px;top:294.20px;font-size:14px;line-height:14px;font-weight:700;color:#000;-webkit-text-stroke:0.5px #000;">Mobile</div>
<div class="t" style="left:1210px;top:294.20px;font-size:14px;line-height:14px;font-weight:700;color:#000;-webkit-text-stroke:0.5px #000;">Email</div>
<div class="r" style="left:933.3px;top:321.9px;width:259.5px;height:49.0px;border:1.6px solid #cfd2d6;border-radius:6px;background:#fff;"></div>
<div class="r" style="left:1210.3px;top:321.9px;width:259.5px;height:49.0px;border:1.6px solid #cfd2d6;border-radius:6px;background:#fff;"></div>
<div class="t" style="left:951.7px;top:337.85px;font-size:18.5px;line-height:18.5px;font-weight:400;color:#6b7178;letter-spacing:0.3px;-webkit-text-stroke:0.25px #6b7178;">xxx-xxxx-xxx</div>
<div class="t" style="left:1229px;top:337.85px;font-size:18.5px;line-height:18.5px;font-weight:400;color:#6b7178;-webkit-text-stroke:0.25px #6b7178;">example@mail.com</div>
<div class="r" style="left:912px;top:416.9px;width:1136px;height:5.6px;background:#f3f3f3;"></div>
<div class="t" style="left:933.1px;top:448.10px;font-size:17px;line-height:17px;font-weight:700;color:#b59b6e;letter-spacing:-0.3px;-webkit-text-stroke:0.5px #b59b6e;">Room Reservation</div>
<div class="t" style="left:933.1px;top:476.40px;font-size:13px;line-height:13px;font-weight:400;color:#333;letter-spacing:-0.25px;-webkit-text-stroke:0.25px #333;">Enter the Room Reservation wish to room reserve.</div>
<div class="t" style="left:933px;top:524.50px;font-size:14px;line-height:14px;font-weight:700;color:#000;letter-spacing:0.1px;-webkit-text-stroke:0.5px #000;">Check-in</div>
<div class="t" style="left:1395.5px;top:524.20px;font-size:14px;line-height:14px;font-weight:700;color:#000;letter-spacing:0.1px;-webkit-text-stroke:0.5px #000;">Check-out</div>
<div class="t" style="left:1857.4px;top:524.20px;font-size:14px;line-height:14px;font-weight:700;color:#000;-webkit-text-stroke:0.5px #000;">Night</div>
<div class="r" style="left:933.6px;top:553.3px;width:251.19999999999993px;height:48.5px;border:1.6px solid #cfd2d6;border-radius:6px;background:#fff;"></div>
<div class="r" style="left:1146.2px;top:554px;width:1.5px;height:47px;background:#cfd2d6;"></div>
<div class="t" style="left:951.9px;top:568.70px;font-size:19px;line-height:19px;font-weight:400;color:#343a41;letter-spacing:0.2px;-webkit-text-stroke:0.25px #343a41;">09/08/2024</div>
<svg class="r" style="left:1157.5px;top:567.5px;" width="18" height="20" viewBox="0 0 18 20"><rect x="1.2" y="3.5" width="15" height="14.8" rx="1.8" fill="none" stroke="#263238" stroke-width="1.9"/>
<path d="M1.2 7.5 H16.2" stroke="#263238" stroke-width="1.9"/><path d="M5 1 V5 M12.4 1 V5" stroke="#263238" stroke-width="1.9"/>
<path d="M4.3 10.3 h2 M7.8 10.3 h2 M11.3 10.3 h2 M4.3 14 h2 M7.8 14 h2 M11.3 14 h2" stroke="#263238" stroke-width="1.8"/></svg>
<div class="r" style="left:1203.3px;top:553.3px;width:174.29999999999995px;height:48.5px;border:1.6px solid #cfd2d6;border-radius:6px;background:#fff;"></div>
<div class="t" style="left:1221.7px;top:570.40px;font-size:19px;line-height:19px;font-weight:400;color:#343a41;-webkit-text-stroke:0.25px #343a41;">02:00</div>
<svg class="r" style="left:1344.2px;top:575.2px;" width="17" height="9" viewBox="0 0 17 9"><path d="M0 0 H16.6 L8.3 9 Z" fill="#000"/></svg>
<div class="r" style="left:1395.5px;top:553.3px;width:251.4000000000001px;height:48.5px;border:1.6px solid #cfd2d6;border-radius:6px;background:#fff;"></div>
<div class="r" style="left:1608.8px;top:554px;width:1.5px;height:47px;background:#cfd2d6;"></div>
<div class="t" style="left:1413.5px;top:568.70px;font-size:19px;line-height:19px;font-weight:400;color:#343a41;letter-spacing:0.2px;-webkit-text-stroke:0.25px #343a41;">10/08/2024</div>
<svg class="r" style="left:1620px;top:567.5px;" width="18" height="20" viewBox="0 0 18 20"><rect x="1.2" y="3.5" width="15" height="14.8" rx="1.8" fill="none" stroke="#263238" stroke-width="1.9"/>
<path d="M1.2 7.5 H16.2" stroke="#263238" stroke-width="1.9"/><path d="M5 1 V5 M12.4 1 V5" stroke="#263238" stroke-width="1.9"/>
<path d="M4.3 10.3 h2 M7.8 10.3 h2 M11.3 10.3 h2 M4.3 14 h2 M7.8 14 h2 M11.3 14 h2" stroke="#263238" stroke-width="1.8"/></svg>
<div class="r" style="left:1665.5px;top:553.3px;width:174.20000000000005px;height:48.5px;border:1.6px solid #cfd2d6;border-radius:6px;background:#fff;"></div>
<div class="t" style="left:1683px;top:570.40px;font-size:19px;line-height:19px;font-weight:400;color:#343a41;-webkit-text-stroke:0.25px #343a41;">12:00</div>
<svg class="r" style="left:1806.7px;top:575.2px;" width="17" height="9" viewBox="0 0 17 9"><path d="M0 0 H16.6 L8.3 9 Z" fill="#000"/></svg>
<div class="r" style="left:1858px;top:553.2px;width:166.79999999999995px;height:48.69999999999993px;border:1.6px solid #cfd2d6;border-radius:6px;background:#fff;"></div>
<div class="t" style="left:1921.0px;width:40px;text-align:center;top:568.90px;font-size:19px;line-height:19px;font-weight:400;color:#343a41;-webkit-text-stroke:0.25px #343a41;">1</div>
<div class="t" style="left:932.9px;top:655.50px;font-size:14px;line-height:14px;font-weight:700;color:#000;letter-spacing:-0.3px;-webkit-text-stroke:0.5px #000;">Booking Type</div>
<div class="t" style="left:1210px;top:655.50px;font-size:14px;line-height:14px;font-weight:700;color:#000;letter-spacing:-0.3px;-webkit-text-stroke:0.5px #000;">Business Source</div>
<div class="t" style="left:1488px;top:655.50px;font-size:14px;line-height:14px;font-weight:700;color:#000;letter-spacing:-0.3px;-webkit-text-stroke:0.5px #000;">Market Group</div>
<div class="r" style="left:933.5px;top:683.9px;width:259.20000000000005px;height:48.60000000000002px;border:1.6px solid #cfd2d6;border-radius:6px;background:#fff;"></div>
<div class="t" style="left:951.5px;top:701.20px;font-size:19px;line-height:19px;font-weight:400;color:#343a41;letter-spacing:-0.45px;-webkit-text-stroke:0.25px #343a41;">Confirm Booking</div>
<svg class="r" style="left:1159px;top:705.8px;" width="17" height="9" viewBox="0 0 17 9"><path d="M0 0 H16.6 L8.3 9 Z" fill="#000"/></svg>
<div class="r" style="left:1210.7px;top:683.9px;width:259.0999999999999px;height:48.60000000000002px;border:1.6px solid #cfd2d6;border-radius:6px;background:#fff;"></div>
<div class="t" style="left:1228.6px;top:701.20px;font-size:19px;line-height:19px;font-weight:400;color:#343a41;letter-spacing:0.4px;-webkit-text-stroke:0.25px #343a41;">- Select -</div>
<svg class="r" style="left:1436px;top:705.8px;" width="17" height="9" viewBox="0 0 17 9"><path d="M0 0 H16.6 L8.3 9 Z" fill="#000"/></svg>
<div class="r" style="left:1488.6px;top:683.9px;width:258.60000000000014px;height:48.60000000000002px;border:1.6px solid #cfd2d6;border-radius:6px;background:#fff;"></div>
<div class="t" style="left:1506px;top:701.20px;font-size:19px;line-height:19px;font-weight:400;color:#343a41;letter-spacing:0.4px;-webkit-text-stroke:0.25px #343a41;">- Select -</div>
<svg class="r" style="left:1714.2px;top:705.8px;" width="17" height="9" viewBox="0 0 17 9"><path d="M0 0 H16.6 L8.3 9 Z" fill="#000"/></svg>
<div class="r" style="left:932.9px;top:756px;width:1009.8px;height:68px;background:#f2f4f6;"></div>
<div class="t" style="left:940.3px;top:783.10px;font-size:14px;line-height:14px;font-weight:700;color:#000;letter-spacing:-0.2px;-webkit-text-stroke:0.5px #000;">Room Type</div>
<div class="r" style="left:1038.4px;top:780.5px;width:19.3px;height:19px;border:1.3px solid #bdbdbd;border-radius:3px;background:#fff;"></div>
<div class="t" style="left:1067px;top:783.10px;font-size:14px;line-height:14px;font-weight:400;color:#111;-webkit-text-stroke:0.25px #111;">All</div>
<div class="t" style="left:1204.5px;top:783.10px;font-size:14px;line-height:14px;font-weight:700;color:#000;-webkit-text-stroke:0.5px #000;">Rate Type</div>
<div class="t" style="left:1452.5px;top:783.50px;font-size:14px;line-height:14px;font-weight:700;color:#000;letter-spacing:-0.2px;-webkit-text-stroke:0.5px #000;">Room</div>
<div class="r" style="left:1514.2px;top:780.6px;width:19.6px;height:19.3px;background:#b89e6e;border-radius:3px;"></div>
<svg class="r" style="left:1514px;top:780px;" width="20" height="20" viewBox="0 0 20 20"><path d="M4 10.5 L8 14.5 L16 6" fill="none" stroke="#fff" stroke-width="1.5"/></svg>
<div class="t" style="left:1542.4px;top:783.50px;font-size:14px;line-height:14px;font-weight:400;color:#111;letter-spacing:0.2px;-webkit-text-stroke:0.25px #111;">Auto</div>
<div class="t" style="left:1599.4px;top:783.50px;font-size:14px;line-height:14px;font-weight:700;color:#000;letter-spacing:-0.2px;-webkit-text-stroke:0.5px #000;">Adult</div>
<div class="t" style="left:1687.3px;top:783.50px;font-size:14px;line-height:14px;font-weight:700;color:#000;letter-spacing:-0.3px;-webkit-text-stroke:0.5px #000;">Child</div>
<div class="t" style="left:1775.5px;top:780.50px;font-size:14px;line-height:14px;font-weight:700;color:#000;letter-spacing:-0.3px;-webkit-text-stroke:0.5px #000;">Rate(THB)</div>
<div class="t" style="left:1849.1px;top:782.50px;font-size:11px;line-height:11px;font-weight:400;color:#111;-webkit-text-stroke:0.25px #111;">Tax (Inc.)</div>
<div class="t" style="left:1775.5px;top:803.80px;font-size:12px;line-height:12px;font-weight:400;color:#111;letter-spacing:-0.12px;-webkit-text-stroke:0.25px #111;">Daily rate per room</div>
<div class="t" style="left:1946.2px;top:759.10px;font-size:14px;line-height:14px;font-weight:700;color:#000;-webkit-text-stroke:0.5px #000;">Total rate</div>
<div class="r" style="left:1946.2px;top:787.5px;width:78.8px;height:33.2px;background:#d7dbe0;border-radius:17px;"></div>
<div class="r" style="left:1949.5px;top:790.5px;width:28px;height:27px;background:#e9ecef;border-radius:50%;"></div>
<div class="t" style="left:1992.8px;top:797.20px;font-size:13px;line-height:13px;font-weight:400;color:#333;-webkit-text-stroke:0.25px #333;">No</div>
<div class="r" style="left:940.7px;top:832.2px;width:248.79999999999995px;height:48.19999999999993px;border:1.6px solid #cfd2d6;border-radius:6px;background:#fff;"></div>
<div class="t" style="left:958.7px;top:849.90px;font-size:19px;line-height:19px;font-weight:400;color:#343a41;letter-spacing:-0.4px;-webkit-text-stroke:0.25px #343a41;">Standard Twin</div>
<svg class="r" style="left:1156.8px;top:854.2px;" width="17" height="9" viewBox="0 0 17 9"><path d="M0 0 H16.6 L8.3 9 Z" fill="#000"/></svg>
<div class="r" style="left:1205px;top:832.2px;width:232.4px;height:48.2px;overflow:hidden;">
<div class="r" style="left:0;top:0;width:232.4px;height:48.2px;border:1.6px solid #cfd2d6;border-radius:6px;"></div>
<div class="t" style="left:18.3px;top:17.8px;font-size:19px;line-height:19px;color:#343a41;letter-spacing:0.1px;-webkit-text-stroke:0.25px #343a41;">ABF Full Buffet - Bar 1</div>
</div>
<svg class="r" style="left:1404.4px;top:854.2px;" width="17" height="9" viewBox="0 0 17 9"><path d="M0 0 H16.6 L8.3 9 Z" fill="#000"/></svg>
<div class="r" style="left:1452.5px;top:832px;width:132.0999999999999px;height:48.39999999999998px;border:1.6px solid #cfd2d6;border-radius:6px;background:#fff;"></div>
<div class="t" style="left:1470.6px;top:849.90px;font-size:19px;line-height:19px;font-weight:400;color:#343a41;letter-spacing:-0.3px;-webkit-text-stroke:0.25px #343a41;">107</div>
<svg class="r" style="left:1551.3px;top:854.2px;" width="17" height="9" viewBox="0 0 17 9"><path d="M0 0 H16.6 L8.3 9 Z" fill="#000"/></svg>
<div class="r" style="left:1599.4px;top:832px;width:73.09999999999991px;height:48.39999999999998px;border:1.6px solid #cfd2d6;border-radius:6px;background:#fff;"></div>
<div class="t" style="left:1617.6px;top:849.90px;font-size:19px;line-height:19px;font-weight:400;color:#343a41;-webkit-text-stroke:0.25px #343a41;">2</div>
<svg class="r" style="left:1639px;top:854.2px;" width="17" height="9" viewBox="0 0 17 9"><path d="M0 0 H16.6 L8.3 9 Z" fill="#000"/></svg>
<div class="r" style="left:1688px;top:832px;width:72px;height:48.39999999999998px;border:1.6px solid #cfd2d6;border-radius:6px;background:#fff;"></div>
<div class="t" style="left:1705.7px;top:849.90px;font-size:19px;line-height:19px;font-weight:400;color:#343a41;-webkit-text-stroke:0.25px #343a41;">0</div>
<svg class="r" style="left:1726.5px;top:854.2px;" width="17" height="9" viewBox="0 0 17 9"><path d="M0 0 H16.6 L8.3 9 Z" fill="#000"/></svg>
<div class="r" style="left:1775.5px;top:832px;width:135.0999999999999px;height:48.39999999999998px;border:1.6px solid #cfd2d6;border-radius:6px;background:#fff;"></div>
<div class="t" style="left:1792.8px;width:100px;text-align:right;top:847.40px;font-size:19px;line-height:19px;font-weight:400;color:#343a41;letter-spacing:-0.2px;-webkit-text-stroke:0.25px #343a41;">1500.00</div>
<div class="r" style="left:912px;top:914px;width:1136px;height:30px;background:linear-gradient(#fff,#f8f8f8);"></div>
<div class="t" style="left:935.4px;top:901.40px;font-size:17px;line-height:17px;font-weight:400;color:#2f7ad0;letter-spacing:-0.3px;-webkit-text-stroke:0.25px #2f7ad0;">+ Add Room</div>
<div class="r" style="left:932.2px;top:967.9px;width:154.3px;height:46.1px;border:2px solid #263238;border-radius:23px;"></div>
<div class="t" style="left:954.7px;top:982.20px;font-size:19px;line-height:19px;font-weight:400;color:#1a2426;letter-spacing:-0.5px;-webkit-text-stroke:0.25px #1a2426;">More Options</div>
<div class="t" style="left:1624.4px;width:100px;text-align:right;top:972.40px;font-size:17px;line-height:17px;font-weight:700;color:#000;-webkit-text-stroke:0.5px #000;">Balance :</div>
<div class="t" style="left:1690.8px;width:150px;text-align:right;top:971.40px;font-size:18px;line-height:18px;font-weight:400;color:#d7343a;-webkit-text-stroke:0.25px #d7343a;">1,500.00 THB</div>
<div class="t" style="left:1585.4px;width:150px;text-align:right;top:997.70px;font-size:17px;line-height:17px;font-weight:700;color:#000;-webkit-text-stroke:0.5px #000;">Total Amount :</div>
<div class="t" style="left:1690.8px;width:150px;text-align:right;top:996.70px;font-size:18px;line-height:18px;font-weight:400;color:#000;-webkit-text-stroke:0.25px #000;">0.00 THB</div>
<div class="r" style="left:1870.5px;top:967.7px;width:155.9px;height:46.9px;background:#1d2d30;border-radius:24px;"></div>
<div class="t" style="left:1888.2px;width:120px;text-align:center;top:982.55px;font-size:18.5px;line-height:18.5px;font-weight:400;color:#fff;letter-spacing:-0.3px;-webkit-text-stroke:0.25px #fff;-webkit-text-stroke:0.5px #fff;">Reserve</div>
<div class="r" style="left:341px;top:995px;width:1707px;height:45px;background:linear-gradient(rgba(0,0,0,0),rgba(0,0,0,0.12));-webkit-mask-image:linear-gradient(to right,#000 0,#000 1500px,rgba(0,0,0,0) 1640px);"></div>
<div class="r" style="left:341px;top:1038px;width:569px;height:2px;background:#9a9b9d;"></div>
</body></html>
